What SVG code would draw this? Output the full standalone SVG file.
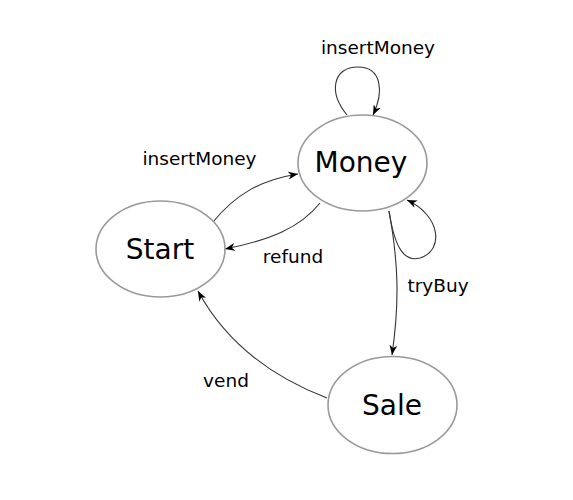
<svg xmlns="http://www.w3.org/2000/svg" width="573" height="500" viewBox="0 0 573 500">
<style>
.node ellipse{fill:#fff;stroke:#999;stroke-width:1.6}
.node text{font-family:"DejaVu Sans",sans-serif;font-size:28px;fill:#000;text-anchor:middle}
.edge{fill:none;stroke:#333;stroke-width:1.1;marker-end:url(#arr)}
.lbl{font-family:"DejaVu Sans",sans-serif;font-size:18.5px;fill:#000;text-anchor:middle}
</style>
<defs>
<marker id="arr" viewBox="0 0 10 8" refX="10" refY="4" markerWidth="10" markerHeight="8" markerUnits="userSpaceOnUse" orient="auto">
<path d="M0,0 L10,4 L0,8 L3,4 Z" fill="#000"/>
</marker>
</defs>
<rect width="573" height="500" fill="#fff"/>
<g id="connectors">
<path class="edge" d="M347,115 C328,92 333,67 358,67 C382,67 384,92 373,115"/>
<path class="edge" d="M389,211 C395,250 405,262 420,258 C445,250 440,215 407,200"/>
<path class="edge" d="M389,211 C398,260 400,300 392,355"/>
<path class="edge" d="M213,222 C235,195 260,180 298,174"/>
<path class="edge" d="M320,203 C300,228 270,240 225,249"/>
<path class="edge" d="M327,398 C280,380 230,350 198,291"/>
</g>
<g id="labels">
<text class="lbl" x="378" y="54">insertMoney</text>
<text class="lbl" x="199.5" y="165">insertMoney</text>
<text class="lbl" x="293" y="263">refund</text>
<text class="lbl" x="438" y="292">tryBuy</text>
<text class="lbl" x="226" y="387">vend</text>
</g>
<g id="node-money" class="node">
<ellipse cx="362.5" cy="163" rx="64.5" ry="48"/>
<text x="361" y="172">Money</text>
</g>
<g id="node-start" class="node">
<ellipse cx="160.5" cy="249" rx="64.5" ry="48"/>
<text x="160" y="259">Start</text>
</g>
<g id="node-sale" class="node">
<ellipse cx="392.5" cy="405" rx="64.5" ry="48.5"/>
<text x="392" y="415">Sale</text>
</g>
</svg>
